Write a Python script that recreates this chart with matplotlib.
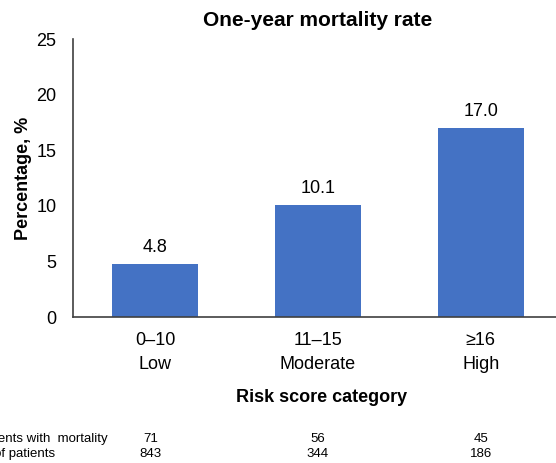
import numpy as np
import matplotlib.pyplot as plt
from matplotlib.transforms import blended_transform_factory

plt.rcParams['font.family'] = ['Liberation Sans', 'DejaVu Sans']

categories = ["0\u201310\nLow", "11\u201315\nModerate", "\u226516\nHigh"]
mortality_rate = [4.8, 10.1, 17.0]
with_mortality = [71, 56, 45]
n_patients = [843, 344, 186]
row_labels = ["Patients with  mortality", "No. of patients"]

W, H = 556, 463
fig = plt.figure(figsize=(W / 100, H / 100), dpi=100)
# axes runs past the right edge, as in the cropped reference
ax = fig.add_axes([73 / W, 1 - 317 / H, (562 - 73) / W, (317 - 39) / H])

x = np.arange(len(categories))
bars = ax.bar(x, mortality_rate, width=0.53, color="#4472C4")
for b, v in zip(bars, mortality_rate):
    ax.text(b.get_x() + b.get_width() / 2, v + 0.7, f"{v:.1f}",
            ha="center", va="bottom", fontsize=13)

ax.set_xlim(-0.505, 2.5)
ax.set_ylim(0, 25)
ax.set_yticks(np.arange(0, 26, 5))
ax.set_xticks(x)
ax.set_xticklabels(categories, fontsize=13, linespacing=1.5)
ax.tick_params(axis="y", labelsize=13, length=0, pad=12)
ax.tick_params(axis="x", length=0, pad=11)
for s in ["top", "right"]:
    ax.spines[s].set_visible(False)
for s in ["left", "bottom"]:
    ax.spines[s].set_color("#404040")
    ax.spines[s].set_linewidth(1.2)

ax.set_title("One-year mortality rate", fontsize=15, fontweight="bold", pad=9)
ax.set_ylabel("Percentage, %", fontsize=13, fontweight="bold", labelpad=3)
fig.text(322 / W, 1 - 398 / H, "Risk score category", ha="center", va="center",
         fontsize=13, fontweight="bold")

# small table under the chart (cut at the left edge, like the reference)
tr = blended_transform_factory(ax.transData, fig.transFigure)
row_y = [439, 454]
row_end = [108, 55]
for r, (lab, vals) in enumerate(zip(row_labels, [with_mortality, n_patients])):
    fig.text(row_end[r] / W, 1 - row_y[r] / H, lab, ha="right", va="center", fontsize=9.5)
    for cx, v in zip(x, vals):
        ax.text(cx - 0.03 * (cx == 0), 1 - row_y[r] / H, str(v), transform=tr,
                ha="center", va="center", fontsize=9.5, clip_on=False)

fig.savefig("out.png", dpi=100)
